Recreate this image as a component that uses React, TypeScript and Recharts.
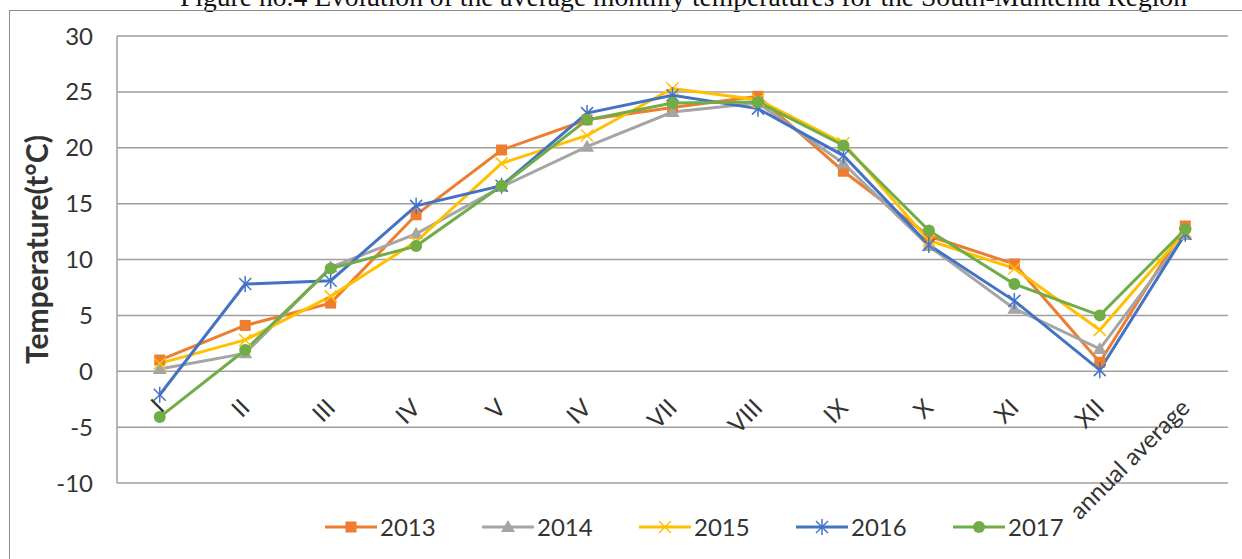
import React from 'react';
import { LineChart, Line, XAxis, YAxis, CartesianGrid, Label } from 'recharts';

// Months as labelled in the figure (the 6th label really reads "IV")
const months = ['I', 'II', 'III', 'IV', 'V', 'IV', 'VII', 'VIII', 'IX', 'X', 'XI', 'XII', 'annual average'];

const t2013 = [1.0, 4.1, 6.1, 14.0, 19.8, 22.5, 23.6, 24.6, 17.9, 12.1, 9.6, 0.8, 13.0];
const t2014 = [0.2, 1.6, 9.3, 12.3, 16.5, 20.1, 23.2, 24.0, 18.6, 11.2, 5.6, 2.0, 12.2];
const t2015 = [0.7, 2.8, 6.7, 11.6, 18.6, 21.1, 25.3, 24.3, 20.4, 11.7, 9.2, 3.7, 12.5];
const t2016 = [-2.1, 7.8, 8.1, 14.8, 16.6, 23.1, 24.7, 23.5, 19.3, 11.3, 6.3, 0.1, 12.3];
const t2017 = [-4.1, 1.9, 9.2, 11.2, 16.6, 22.5, 24.0, 24.1, 20.2, 12.6, 7.8, 5.0, 12.7];

const yTicks = [-10, -5, 0, 5, 10, 15, 20, 25, 30];

const series = [
  { key: '2013', values: t2013, color: '#ED7D31', marker: 'square' },
  { key: '2014', values: t2014, color: '#A5A5A5', marker: 'triangle' },
  { key: '2015', values: t2015, color: '#FFC000', marker: 'cross' },
  { key: '2016', values: t2016, color: '#4472C4', marker: 'star' },
  { key: '2017', values: t2017, color: '#70AD47', marker: 'circle' },
];

const data = months.map((month, i) => {
  const row: Record<string, string | number> = { month, idx: i };
  series.forEach((s) => { row[s.key] = s.values[i]; });
  return row;
});

const W = 1242;
const H = 559;
const PLOT_TOP = 36;
const PLOT_BOTTOM = 483;
const PLOT_LEFT = 117;
const PLOT_RIGHT = 1228;
const Y_MIN = -10;
const Y_MAX = 30;
const zeroY = PLOT_TOP + (PLOT_BOTTOM - PLOT_TOP) * (Y_MAX / (Y_MAX - Y_MIN));
// half a category step on each side, like Excel's "between tick marks"
const halfStep = (PLOT_RIGHT - PLOT_LEFT) / months.length / 2;

const font = 'Lato, "Open Sans", sans-serif';
const textColor = '#333333';
const gridColor = '#9f9f9f';

const Marker = ({ kind, cx, cy, color }: { kind: string; cx: number; cy: number; color: string }) => {
  if (cx == null || cy == null) return null;
  if (kind === 'square') {
    return <rect x={cx - 5.5} y={cy - 5.5} width={11} height={11} fill={color} />;
  }
  if (kind === 'triangle') {
    return <polygon points={`${cx},${cy - 7} ${cx + 7},${cy + 5} ${cx - 7},${cy + 5}`} fill={color} />;
  }
  if (kind === 'cross') {
    return (
      <g stroke={color} strokeWidth={1.5}>
        <line x1={cx - 6} y1={cy - 6} x2={cx + 6} y2={cy + 6} />
        <line x1={cx - 6} y1={cy + 6} x2={cx + 6} y2={cy - 6} />
      </g>
    );
  }
  if (kind === 'star') {
    return (
      <g stroke={color} strokeWidth={1.5}>
        <line x1={cx - 6} y1={cy - 6} x2={cx + 6} y2={cy + 6} />
        <line x1={cx - 6} y1={cy + 6} x2={cx + 6} y2={cy - 6} />
        <line x1={cx} y1={cy - 8} x2={cx} y2={cy + 8} />
      </g>
    );
  }
  return <circle cx={cx} cy={cy} r={6} fill={color} />;
};

const XTick = (props: any) => {
  const { x, payload } = props;
  const ax = x + 6;
  const ay = zeroY + 38;
  return (
    <text
      x={ax}
      y={ay}
      transform={`rotate(-45 ${ax} ${ay})`}
      textAnchor="end"
      fontSize={24}
      fontFamily={font}
      fill={textColor}
    >
      {months[payload.value] ?? payload.value}
    </text>
  );
};

const renderYLabel = (props: any) => {
  const vb = props.viewBox || {};
  const cy = (vb.y ?? PLOT_TOP) + (vb.height ?? PLOT_BOTTOM - PLOT_TOP) / 2 - 10;
  const cx = 40;
  return (
    <text
      x={cx}
      y={cy}
      transform={`rotate(-90 ${cx} ${cy})`}
      textAnchor="middle"
      dominantBaseline="middle"
      fontSize={30}
      fontWeight={700}
      fontFamily={font}
      fill={textColor}
    >
      Temperature(t°C)
    </text>
  );
};

const LegendIcon = ({ kind, color }: { kind: string; color: string }) => (
  <svg width={52} height={20} style={{ display: 'block' }}>
    <line x1={0} y1={10} x2={52} y2={10} stroke={color} strokeWidth={3} />
    <Marker kind={kind} cx={26} cy={10} color={color} />
  </svg>
);

const App = () => {
  return (
    <div style={{ position: 'absolute', left: 0, top: 0, width: W, height: H, background: '#fff', overflow: 'hidden' }}>
      {/* Caption, cut off at the top of the picture */}
      <div
        style={{
          position: 'absolute',
          top: -17,
          left: 180,
          fontFamily: '"Liberation Serif", "Times New Roman", serif',
          fontSize: 27.6,
          lineHeight: '27px',
          whiteSpace: 'nowrap',
          color: '#111',
        }}
      >
        Figure no.4 Evolution of the average monthly temperatures for the South-Muntenia Region
      </div>

      {/* Chart frame */}
      <div
        style={{
          position: 'absolute',
          left: 9,
          top: 10,
          width: 1260,
          height: 600,
          border: '1.5px solid #8c8c8c',
          boxSizing: 'border-box',
        }}
      />

      <div style={{ position: 'absolute', left: 0, top: 0 }}>
        <LineChart
          width={W}
          height={H}
          data={data}
          margin={{ top: PLOT_TOP, right: W - PLOT_RIGHT, left: 0, bottom: H - PLOT_BOTTOM - 30 }}
        >
          <CartesianGrid vertical={false} stroke={gridColor} strokeWidth={1.5} />
          <XAxis
            dataKey="idx"
            type="category"
            padding={{ left: halfStep, right: halfStep }}
            axisLine={false}
            tickLine={false}
            interval={0}
            height={30}
            tick={<XTick />}
          />
          <YAxis
            type="number"
            domain={[Y_MIN, Y_MAX]}
            ticks={yTicks}
            width={PLOT_LEFT}
            axisLine={{ stroke: gridColor, strokeWidth: 1.5 }}
            tickLine={false}
            tickSize={0}
            tickMargin={24}
            tick={{ fontSize: 24, fill: textColor, fontFamily: font }}
          >
            <Label content={renderYLabel} />
          </YAxis>
          {series.map((s) => (
            <Line
              key={s.key}
              type="linear"
              dataKey={s.key}
              stroke={s.color}
              strokeWidth={3}
              isAnimationActive={false}
              activeDot={false}
              dot={(p: any) => (
                <Marker key={`${s.key}-${p.index}`} kind={s.marker} cx={p.cx} cy={p.cy} color={s.color} />
              )}
            />
          ))}
        </LineChart>
      </div>

      {/* Legend */}
      <div
        style={{
          position: 'absolute',
          left: 325,
          top: 527 - 15,
          display: 'flex',
          alignItems: 'center',
          fontFamily: font,
          fontSize: 24,
          lineHeight: '30px',
          color: textColor,
        }}
      >
        {series.map((s) => (
          <div key={s.key} style={{ display: 'flex', alignItems: 'center', width: 157 }}>
            <LegendIcon kind={s.marker} color={s.color} />
            <span style={{ marginLeft: 3 }}>{s.key}</span>
          </div>
        ))}
      </div>
    </div>
  );
};

export default App;
